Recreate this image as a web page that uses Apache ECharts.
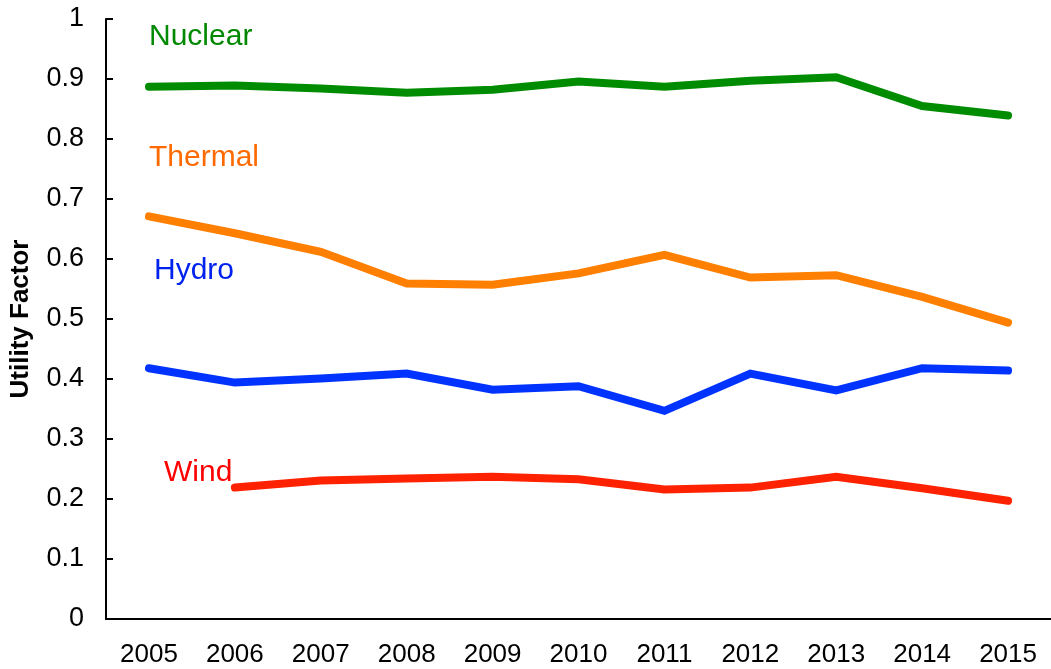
<!DOCTYPE html>
<html>
<head>
<meta charset="utf-8">
<script src="https://cdn.jsdelivr.net/npm/echarts@6/dist/echarts.min.js"></script>
<style>html,body{margin:0;padding:0;background:#fff}#c{width:1051px;height:669px}</style>
</head>
<body>
<div id="c"></div>
<script>
const years = ['2005','2006','2007','2008','2009','2010','2011','2012','2013','2014','2015'];
const nuclear = [0.887,0.889,0.884,0.877,0.882,0.896,0.887,0.897,0.903,0.855,0.839];
const thermal = [0.671,0.643,0.612,0.559,0.557,0.576,0.607,0.569,0.573,0.537,0.494];
const hydro   = [0.418,0.394,0.401,0.409,0.382,0.388,0.347,0.409,0.381,0.418,0.414];
const wind    = ['-',0.219,0.231,0.234,0.237,0.233,0.216,0.219,0.237,0.218,0.197];
const yTicks  = [0,0.1,0.2,0.3,0.4,0.5,0.6,0.7,0.8,0.9,1];

const font = 'Liberation Sans, Arial, Helvetica, sans-serif';
const chart = echarts.init(document.getElementById('c'), null, {renderer:'canvas'});
function mk(name, data, color){
  return {name, type:'line', data, symbol:'none', animation:false,
    lineStyle:{color, width:8, cap:'round', join:'miter'}, itemStyle:{color}};
}
chart.setOption({
  animation:false,
  backgroundColor:'#fff',
  grid:{left:103, top:19, width:952, height:600, containLabel:false},
  xAxis:{type:'category', data:years, boundaryGap:true,
    axisLine:{lineStyle:{color:'#000', width:2}},
    axisTick:{inside:true, length:7, lineStyle:{color:'#000', width:2}},
    axisLabel:{color:'#000', fontFamily:font, fontSize:26, margin:23},
    splitLine:{show:false}},
  yAxis:{type:'value', min:0, max:1, interval:0.1,
    name:'Utility Factor', nameLocation:'middle', nameGap:72,
    nameTextStyle:{color:'#000', fontFamily:font, fontSize:26, fontWeight:'bold'},
    axisLine:{show:true, lineStyle:{color:'#000', width:2}},
    axisTick:{show:true, inside:true, length:7, lineStyle:{color:'#000', width:2}},
    axisLabel:{color:'#000', fontFamily:font, fontSize:27, margin:22,
      formatter:v => { const t = yTicks.find(k => Math.abs(k - v) < 1e-9); return t === undefined ? '' : String(t); }},
    splitLine:{show:false}},
  series:[
    mk('Nuclear', nuclear, '#008C00'),
    mk('Thermal', thermal, '#FF7F00'),
    mk('Hydro', hydro, '#0033FF'),
    mk('Wind', wind, '#FF2200')
  ],
  graphic:[
    {type:'text', left:149, top:22, style:{text:'Nuclear', fill:'#008800', font:'30px '+font}},
    {type:'text', left:149, top:143, style:{text:'Thermal', fill:'#FF6A00', font:'30px '+font}},
    {type:'text', left:154, top:256, style:{text:'Hydro', fill:'#0022EE', font:'30px '+font}},
    {type:'text', left:164, top:458, style:{text:'Wind', fill:'#FF0000', font:'30px '+font}}
  ]
});
</script>
</body>
</html>
